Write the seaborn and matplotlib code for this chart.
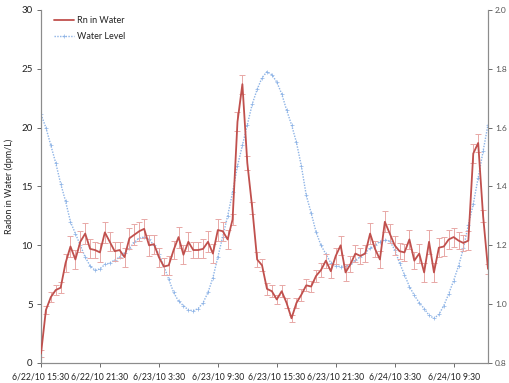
import numpy as np
import pandas as pd
import matplotlib
matplotlib.use("Agg")
import matplotlib.pyplot as plt
import seaborn as sns

# ---- data (30-minute samples starting 6/22/10 15:30) ----
hours = np.arange(0, 46, 0.5)

radon = [0.8, 4.5, 5.6, 6.2, 6.4, 8.5, 9.9, 8.8, 10.3, 11.0,
         9.7, 9.6, 9.4, 11.1, 10.3, 9.5, 9.6, 9.0, 10.6, 10.9,
         11.2, 11.4, 10.0, 10.1, 9.0, 8.2, 8.3, 9.6, 10.7, 9.2,
         10.3, 9.6, 9.6, 9.7, 10.3, 9.3, 11.3, 11.2, 10.5, 12.2,
         20.5, 23.7, 17.0, 13.2, 8.8, 8.3, 6.3, 6.1, 5.4, 6.1,
         5.1, 3.8, 5.1, 5.8, 6.6, 6.5, 7.4, 7.9, 8.7, 7.8,
         9.1, 10.0, 7.7, 8.4, 9.3, 9.1, 9.3, 11.0, 9.7, 8.8,
         12.0, 11.0, 10.0, 9.5, 9.4, 10.5, 8.7, 9.3, 7.7, 10.3,
         7.7, 9.8, 9.9, 10.5, 10.7, 10.4, 10.2, 10.4, 17.8, 18.7,
         12.5, 8.0]

radon_err = [0.3, 0.35, 0.4, 0.4, 0.45, 0.8, 0.9, 0.8, 0.9, 0.9,
             0.8, 0.7, 0.8, 0.9, 0.8, 0.8, 0.7, 0.8, 0.9, 0.9,
             0.8, 0.8, 0.9, 0.8, 0.8, 0.7, 0.8, 0.8, 0.9, 0.8,
             0.8, 0.7, 0.7, 0.8, 0.9, 0.8, 0.9, 0.8, 0.8, 0.5,
             0.8, 0.8, 0.6, 0.5, 0.6, 0.5, 0.5, 0.5, 0.4, 0.5,
             0.4, 0.3, 0.4, 0.5, 0.5, 0.5, 0.5, 0.6, 0.6, 0.6,
             0.7, 0.8, 0.7, 0.7, 0.7, 0.7, 0.7, 0.9, 0.7, 0.7,
             0.9, 0.8, 0.8, 0.7, 0.7, 0.8, 0.7, 0.8, 0.8, 1.0,
             0.8, 0.8, 0.8, 0.8, 0.8, 0.7, 0.7, 0.8, 0.8, 0.8,
             0.5, 0.4]

water_level = [1.645, 1.60, 1.54, 1.48, 1.41, 1.35, 1.28, 1.24, 1.20, 1.16,
               1.13, 1.115, 1.12, 1.135, 1.14, 1.15, 1.16, 1.175, 1.19, 1.21,
               1.225, 1.228, 1.22, 1.20, 1.17, 1.13, 1.085, 1.04, 1.01, 0.995,
               0.98, 0.978, 0.985, 1.005, 1.04, 1.09, 1.16, 1.23, 1.30, 1.38,
               1.47, 1.54, 1.61, 1.68, 1.73, 1.77, 1.79, 1.78, 1.755, 1.715,
               1.66, 1.61, 1.55, 1.47, 1.37, 1.31, 1.245, 1.20, 1.17, 1.14,
               1.13, 1.128, 1.13, 1.135, 1.15, 1.16, 1.175, 1.19, 1.20, 1.213,
               1.218, 1.215, 1.185, 1.14, 1.10, 1.06, 1.03, 1.005, 0.985, 0.962,
               0.952, 0.965, 0.995, 1.035, 1.08, 1.13, 1.19, 1.27, 1.34, 1.43,
               1.52, 1.61]

tick_hours = [0, 6, 12, 18, 24, 30, 36, 42]
tick_labels = ["6/22/10 15:30", "6/22/10 21:30", "6/23/10 3:30", "6/23/10 9:30",
               "6/23/10 15:30", "6/23/10 21:30", "6/24/10 3:30", "6/24/10 9:30"]

df = pd.DataFrame({"hours": hours, "radon": radon, "err": radon_err,
                   "level": water_level})

# ---- style ----
sns.set_theme(style="white")
plt.rcParams["font.family"] = ["Lato", "DejaVu Sans"]

W, H = 509, 383
fig = plt.figure(figsize=(W / 100, H / 100), dpi=100)
ax = fig.add_axes([41 / W, (H - 363) / H, (488 - 41) / W, (363 - 10) / H])
ax2 = ax.twinx()

red = "#C0504D"
err_col = "#E8A8A6"
blue = "#8DB3E6"

# water level on right axis
sns.lineplot(data=df, x="hours", y="level", ax=ax2, color=blue, lw=1.0,
             linestyle=(0, (1, 1)), marker="+", markersize=2.5, mew=0.5,
             mec=blue, label="Water Level", legend=False, zorder=1)

# radon with error bars on left axis
ax.errorbar(df["hours"], df["radon"], yerr=df["err"], fmt="none",
            ecolor=err_col, elinewidth=0.7, capsize=2, capthick=0.7, zorder=2)
sns.lineplot(data=df, x="hours", y="radon", ax=ax, color=red, lw=1.3,
             label="Rn in Water", legend=False, zorder=3)

ax.set_zorder(ax2.get_zorder() + 1)
ax.patch.set_visible(False)

ax.set_xlim(0, 45.5)
ax.set_ylim(0, 30)
ax2.set_ylim(0.8, 2.0)

ax.set_xticks(tick_hours)
ax.set_xticklabels(tick_labels)
ax.set_yticks([0, 5, 10, 15, 20, 25, 30])
ax2.set_yticks([0.8, 1.0, 1.2, 1.4, 1.6, 1.8, 2.0])
ax2.set_yticklabels([f"{v:.1f}" for v in [0.8, 1.0, 1.2, 1.4, 1.6, 1.8, 2.0]])

ax.set_xlabel("")
ax2.set_ylabel("")
ax.set_ylabel("Radon in Water (dpm/L)", fontsize=6.5, color="#222222", labelpad=5)

ax.tick_params(axis="x", labelsize=6.2, colors="#555555", labelcolor="#222222",
               length=3, width=0.6, direction="out", bottom=True, pad=4)
ax.tick_params(axis="y", labelsize=7, colors="#555555", labelcolor="#222222",
               length=3, width=0.6, direction="out", left=True, pad=3)
ax2.tick_params(axis="y", labelsize=6, colors="#555555", labelcolor="#555555",
                length=3, width=0.6, direction="out", right=True, pad=2)

for a in (ax, ax2):
    a.spines["top"].set_visible(False)
    for s in ("left", "right", "bottom"):
        a.spines[s].set_color("#8C8C8C")
        a.spines[s].set_linewidth(0.8)
    a.grid(False)

h1, l1 = ax.get_legend_handles_labels()
h2, l2 = ax2.get_legend_handles_labels()
leg = ax.legend(h1 + h2, l1 + l2, loc="upper left", bbox_to_anchor=(0.015, 1.0),
                frameon=False, fontsize=6.5, handlelength=2.2, handletextpad=0.3,
                labelspacing=0.75, borderaxespad=0.3)
for t in leg.get_texts():
    t.set_color("#222222")

fig.savefig("out.png", dpi=100)
